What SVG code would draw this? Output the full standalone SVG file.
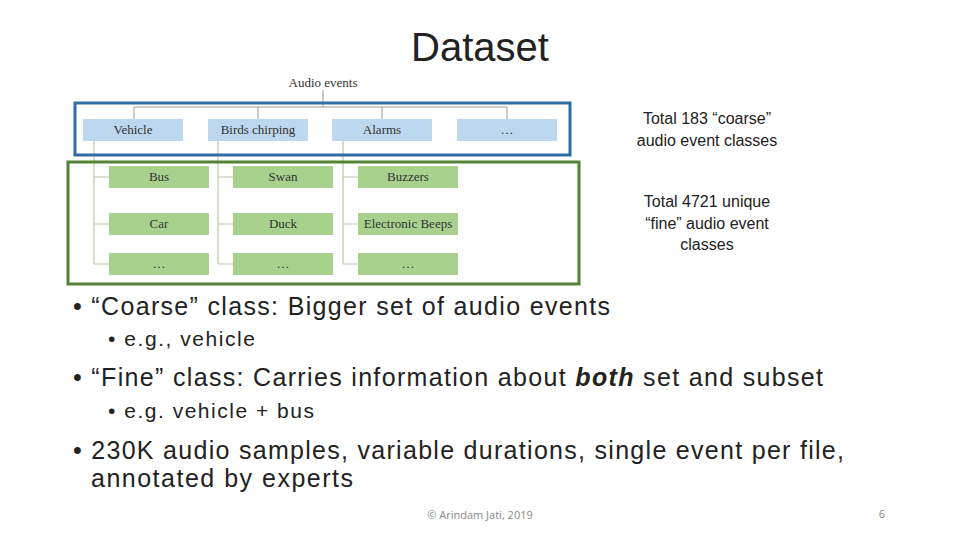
<svg xmlns="http://www.w3.org/2000/svg" width="960" height="540" viewBox="0 0 960 540">
<style>
.s{font-family:"Liberation Serif",serif;font-size:13px;fill:#333;text-anchor:middle}
.a{font-family:"Liberation Sans",Arial,sans-serif;fill:#222}
.b{fill:#bdd7ee}.g{fill:#a9d18e}
.l{stroke:#9a9a9a;stroke-width:1;fill:none}
.lg{stroke:#b8c9a8;stroke-width:1.2;fill:none}
</style>
<rect width="960" height="540" fill="#fff"/>
<text x="480" y="61" class="a" font-size="40" text-anchor="middle">Dataset</text>
<g id="connectors">
<path class="l" d="M323 90V107M134 107H507M134 107V119M258 107V119M382 107V119M507 107V119"/>
<path class="lg" d="M94 141V264M94 177H109M94 224H109M94 264H109M218 141V264M218 177H233M218 224H233M218 264H233M343 141V264M343 177H358M343 224H358M343 264H358"/>
</g>
<text x="323" y="87" class="s">Audio events</text>
<g id="vehicle"><rect class="b" x="83" y="119" width="100" height="22"/><text x="133" y="134" class="s">Vehicle</text></g>
<g id="birds"><rect class="b" x="208" y="119" width="100" height="22"/><text x="258" y="134" class="s">Birds chirping</text></g>
<g id="alarms"><rect class="b" x="332" y="119" width="100" height="22"/><text x="382" y="134" class="s">Alarms</text></g>
<g id="more"><rect class="b" x="457" y="119" width="100" height="22"/><text x="507" y="134" class="s">…</text></g>
<g id="bus"><rect class="g" x="109" y="166" width="100" height="22"/><text x="159" y="181" class="s">Bus</text></g>
<g id="car"><rect class="g" x="109" y="213" width="100" height="22"/><text x="159" y="228" class="s">Car</text></g>
<g id="v3"><rect class="g" x="109" y="253" width="100" height="22"/><text x="159" y="268" class="s">…</text></g>
<g id="swan"><rect class="g" x="233" y="166" width="100" height="22"/><text x="283" y="181" class="s">Swan</text></g>
<g id="duck"><rect class="g" x="233" y="213" width="100" height="22"/><text x="283" y="228" class="s">Duck</text></g>
<g id="b3"><rect class="g" x="233" y="253" width="100" height="22"/><text x="283" y="268" class="s">…</text></g>
<g id="buzzers"><rect class="g" x="358" y="166" width="100" height="22"/><text x="408" y="181" class="s">Buzzers</text></g>
<g id="beeps"><rect class="g" x="358" y="213" width="100" height="22"/><text x="408" y="228" class="s">Electronic Beeps</text></g>
<g id="a3"><rect class="g" x="358" y="253" width="100" height="22"/><text x="408" y="268" class="s">…</text></g>
<rect x="75" y="103" width="495" height="52" fill="none" stroke="#2e6ca4" stroke-width="3"/>
<rect x="68" y="162" width="511" height="122" fill="none" stroke="#548235" stroke-width="3"/>
<g class="a" font-size="16" text-anchor="middle">
<text x="707" y="124">Total 183 “coarse”</text><text x="707" y="146">audio event classes</text>
<text x="707" y="207">Total 4721 unique</text><text x="707" y="229">“fine” audio event</text><text x="707" y="250">classes</text>
</g>
<g class="a">
<text x="73" y="315" font-size="25" textLength="537" lengthAdjust="spacing">• “Coarse” class: Bigger set of audio events</text>
<text x="108" y="346" font-size="21" textLength="147" lengthAdjust="spacing">• e.g., vehicle</text>
<text x="73" y="386" font-size="25" textLength="750" lengthAdjust="spacing">• “Fine” class: Carries information about <tspan font-weight="bold" font-style="italic">both</tspan> set and subset</text>
<text x="108" y="418" font-size="21" textLength="206" lengthAdjust="spacing">• e.g. vehicle + bus</text>
<text x="73" y="459" font-size="25" textLength="771" lengthAdjust="spacing">• 230K audio samples, variable durations, single event per file,</text>
<text x="91" y="487" font-size="25" textLength="262" lengthAdjust="spacing">annotated by experts</text>
</g>
<text x="480" y="519" font-family="'Open Sans','Liberation Sans',sans-serif" font-size="11" fill="#888" text-anchor="middle">© Arindam Jati, 2019</text>
<text x="882" y="518" font-family="'Open Sans','Liberation Sans',sans-serif" font-size="11" fill="#888" text-anchor="middle">6</text>
</svg>
